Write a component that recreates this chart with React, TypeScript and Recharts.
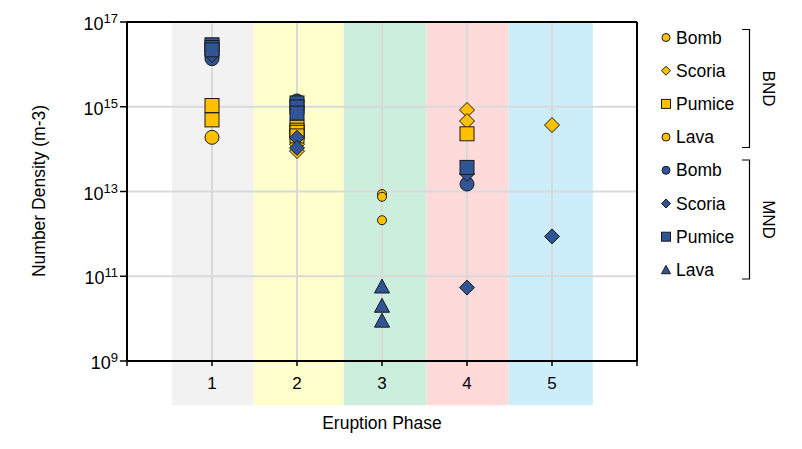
import React from "react";
import {
  ScatterChart,
  Scatter,
  XAxis,
  YAxis,
  ReferenceArea,
  ReferenceLine,
} from "recharts";

const FONT = "'Liberation Sans', Arial, sans-serif";
const YELLOW = "#FFC000";
const BLUE = "#2F5597";

// x axis: eruption phases, drawn on a 0..6 numeric axis
const phaseTicks = [0, 1, 2, 3, 4, 5, 6];
const phaseBands = [
  [0.53, 1.49],
  [1.49, 2.55],
  [2.55, 3.52],
  [3.52, 4.49],
  [4.49, 5.48],
];
const bandColors = ["#F2F2F2", "#FFFFCC", "#CCEEDC", "#FFDADA", "#CCEEFA"];

// y axis: log scale
const densityTicks = [1e9, 1e11, 1e13, 1e15, 1e17];
const densityGrid = [1e11, 1e13, 1e15];

// [phase, number density]
const bndBomb = [[1, 1.9e14]];
const bndScoria = [
  [2, 1.3e14],
  [2, 9e13],
  [4, 8.4e14],
  [4, 4.6e14],
  [5, 3.7e14],
];
const bndPumice = [
  [1, 1.07e15],
  [1, 4.9e14],
  [2, 3.3e14],
  [2, 2.8e14],
  [2, 2.5e14],
  [2, 2.05e14],
  [4, 2.3e14],
];
const bndLava = [
  [3, 8.7e12],
  [3, 7.5e12],
  [3, 2.1e12],
];
const mndBomb = [
  [1, 1.36e16],
  [2, 1.37e15],
  [4, 1.5e13],
];
const mndScoria = [
  [1, 1.66e16],
  [2, 1.86e14],
  [2, 1.07e14],
  [4, 2.6e13],
  [4, 5.4e10],
  [5, 8.7e11],
];
const mndPumice = [
  [1, 2.9e16],
  [1, 2.5e16],
  [1, 2.2e16],
  [2, 1.23e15],
  [2, 9.9e14],
  [2, 7.1e14],
  [4, 3.7e13],
];
const mndLava = [
  [3, 5.7e10],
  [3, 2.0e10],
  [3, 8.9e9],
];

type Kind = "circle" | "square" | "diamond" | "triangle";

const series = [
  { name: "Bomb", group: "BND", kind: "circle", fill: YELLOW, size: 14, data: bndBomb },
  { name: "Scoria", group: "BND", kind: "diamond", fill: YELLOW, size: 15, data: bndScoria },
  { name: "Pumice", group: "BND", kind: "square", fill: YELLOW, size: 14, data: bndPumice },
  { name: "Lava", group: "BND", kind: "circle", fill: YELLOW, size: 9, data: bndLava },
  { name: "Bomb", group: "MND", kind: "circle", fill: BLUE, size: 14, data: mndBomb },
  { name: "Scoria", group: "MND", kind: "diamond", fill: BLUE, size: 15, data: mndScoria },
  { name: "Pumice", group: "MND", kind: "square", fill: BLUE, size: 14, data: mndPumice },
  { name: "Lava", group: "MND", kind: "triangle", fill: BLUE, size: 15, data: mndLava },
] as { name: string; group: string; kind: Kind; fill: string; size: number; data: number[][] }[];

function marker(kind: Kind, cx: number, cy: number, size: number, fill: string) {
  const h = size / 2;
  const common = { fill, stroke: "#1a1a1a", strokeWidth: 1 };
  if (kind === "circle") return <circle cx={cx} cy={cy} r={h} {...common} />;
  if (kind === "square")
    return <rect x={cx - h} y={cy - h} width={size} height={size} {...common} />;
  if (kind === "diamond")
    return (
      <polygon
        points={`${cx},${cy - h} ${cx + h},${cy} ${cx},${cy + h} ${cx - h},${cy}`}
        {...common}
      />
    );
  return (
    <polygon
      points={`${cx},${cy - h} ${cx + h},${cy + h * 0.85} ${cx - h},${cy + h * 0.85}`}
      {...common}
    />
  );
}

const PowerTick = (props: any) => {
  const { x, y, payload } = props;
  const exp = Math.round(Math.log10(payload.value));
  return (
    <text x={x} y={y + 8} textAnchor="end" fontSize={18} fontFamily={FONT} fill="#000">
      <tspan>10</tspan>
      <tspan dy={-7} fontSize={13}>
        {exp}
      </tspan>
    </text>
  );
};

function Legend() {
  const rowY = (i: number) => 37.5 + i * 33.2;
  const items = series.map((s, i) => (
    <g key={i}>
      {marker(s.kind, 666, rowY(i), s.kind === "circle" ? 8 : 9, s.fill)}
      <text x={676} y={rowY(i) + 6} fontSize={17.5} fontFamily={FONT} fill="#000">
        {s.name}
      </text>
    </g>
  ));
  const brackets = [
    { label: "BND", top: 29.5, bottom: 147.5 },
    { label: "MND", top: 160, bottom: 279 },
  ].map((b) => (
    <g key={b.label}>
      <path
        d={`M742,${b.top} H749.5 V${b.bottom} H742`}
        fill="none"
        stroke="#000"
        strokeWidth={1.2}
      />
      <text
        transform={`translate(763,${(b.top + b.bottom) / 2}) rotate(90)`}
        textAnchor="middle"
        fontSize={17}
        fontFamily={FONT}
        fill="#000"
      >
        {b.label}
      </text>
    </g>
  ));
  return (
    <g>
      {items}
      {brackets}
    </g>
  );
}

export default function App() {
  return (
    <div style={{ margin: -8, width: 802, height: 449, background: "#fff" }}>
      <ScatterChart
        width={802}
        height={449}
        margin={{ top: 22, right: 165, bottom: 58, left: 67 }}
      >
        {phaseBands.map((b, i) => (
          <ReferenceArea
            key={`band${i}`}
            x1={b[0]}
            x2={b[1]}
            y1={9e7}
            y2={1e17}
            fill={bandColors[i]}
            fillOpacity={1}
            stroke="none"
            ifOverflow="visible"
          />
        ))}
        {phaseTicks.slice(1, 6).map((p) => (
          <ReferenceLine key={`vx${p}`} x={p} stroke="#D9D9D9" strokeWidth={2} />
        ))}
        {densityGrid.map((v) => (
          <ReferenceLine key={`hy${v}`} y={v} stroke="#D9D9D9" strokeWidth={2} />
        ))}
        <ReferenceLine y={1e17} stroke="#000" strokeWidth={2} />
        <ReferenceLine x={6} stroke="#000" strokeWidth={2} />
        <XAxis
          type="number"
          dataKey="x"
          domain={[0, 6]}
          ticks={phaseTicks}
          interval={0}
          height={30}
          allowDataOverflow
          tickFormatter={(v) => (v >= 1 && v <= 5 ? String(v) : "")}
          axisLine={{ stroke: "#000", strokeWidth: 2 }}
          tickLine={{ stroke: "#000", strokeWidth: 1.5 }}
          tickSize={5}
          tickMargin={11}
          tick={{ fill: "#000", fontSize: 17, fontFamily: FONT }}
        />
        <YAxis
          type="number"
          dataKey="y"
          scale="log"
          domain={[1e9, 1e17]}
          ticks={densityTicks}
          interval={0}
          width={60}
          allowDataOverflow
          axisLine={{ stroke: "#000", strokeWidth: 2 }}
          tickLine={{ stroke: "#000", strokeWidth: 1.5 }}
          tickSize={7}
          tickMargin={2}
          tick={<PowerTick />}
        />
        {series.map((s, i) => (
          <Scatter
            key={i}
            name={`${s.group} ${s.name}`}
            data={s.data.map(([x, y]) => ({ x, y }))}
            isAnimationActive={false}
            shape={(p: any) => marker(s.kind, p.cx, p.cy, s.size, s.fill)}
          />
        ))}
        <text
          x={382}
          y={429}
          textAnchor="middle"
          fontSize={17.5}
          fontFamily={FONT}
          fill="#000"
        >
          Eruption Phase
        </text>
        <text
          transform="translate(45,191) rotate(-90)"
          textAnchor="middle"
          fontSize={17.5}
          fontFamily={FONT}
          fill="#000"
        >
          Number Density (m-3)
        </text>
        <Legend />
      </ScatterChart>
    </div>
  );
}
